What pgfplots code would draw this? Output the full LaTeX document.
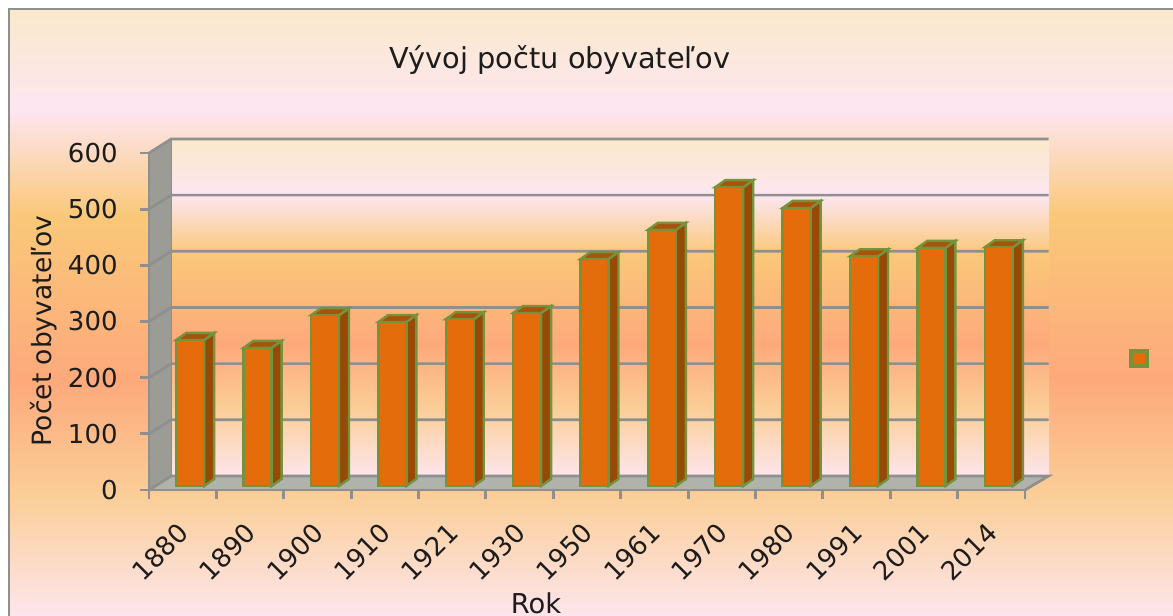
\documentclass[border=0pt]{standalone}
\usepackage{pgfplots}
\pgfplotsset{compat=1.18}
\usepackage{fontspec}
\setmainfont{DejaVu Sans}
\definecolor{gridgray}{HTML}{8E8F8E}
\definecolor{barfront}{HTML}{E46C0A}
\definecolor{barside}{HTML}{964A06}
\definecolor{bartop}{HTML}{A95208}
\definecolor{baredge}{HTML}{76923C}
\definecolor{wallgray}{HTML}{9A9C95}
\definecolor{floorgray}{HTML}{B0B2AC}
\definecolor{txt}{HTML}{1C1C1C}
\definecolor{sA}{HTML}{FDE5EC}
\definecolor{sB}{HTML}{FBCE97}
\definecolor{sC}{HTML}{FDA97B}
\definecolor{sD}{HTML}{FAC879}
\definecolor{sE}{HTML}{FDE6F1}
\definecolor{sF}{HTML}{FBE9CB}
\pgfdeclareverticalshading{sunset}{100bp}{
 color(0bp)=(sA);
 color(25bp)=(sA);
 color(35bp)=(sB);
 color(44.5bp)=(sC);
 color(58bp)=(sD);
 color(66.7bp)=(sE);
 color(75bp)=(sF);
 color(100bp)=(sF)}
% one 3D bar: side and top faces in data units (index, value)
\newcommand{\barfaces}[2]{%
 \pgfmathsetmacro\xa{#1-0.208}\pgfmathsetmacro\xb{#1+0.208}\pgfmathsetmacro\xc{#1+0.208+0.148}\pgfmathsetmacro\xd{#1-0.208+0.148}%
 \pgfmathsetmacro\vt{#2+12.5}%
 \edef\doplot{\noexpand\addplot[fill=barside,draw=baredge,line width=1.8pt] coordinates {(\xb,0) (\xc,12.5) (\xc,\vt) (\xb,#2)} -- cycle;
 \noexpand\addplot[fill=bartop,draw=baredge,line width=1.8pt] coordinates {(\xa,#2) (\xd,\vt) (\xc,\vt) (\xb,#2)} -- cycle;}%
 \doplot}
\pgfplotstableread{
idx val
0 260
1 246
2 304
3 292
4 297
5 308
6 404
7 456
8 532
9 495
10 409
11 424
12 425
}\popdata
\begin{document}
\begin{tikzpicture}[x=0.75pt,y=0.75pt]
\useasboundingbox (0,0) rectangle (1173,616);
\clip (0,0) rectangle (1173,616);
\fill[white] (0,0) rectangle (1173,616);
\shade[shading=sunset] (9,0) rectangle (1173,607);
\draw[gridgray,line width=2.2pt] (9,0) -- (9,607) -- (1173,607);
\shade[shading=sunset] (172,140) rectangle (1049,477);
% frame axis: categories at 0..12, values 0..600
\begin{axis}[
  at={(149*0.75pt,126*0.75pt)},anchor=south west,
  width=876*0.75pt,height=337*0.75pt,scale only axis,
  xmin=-0.5,xmax=12.5,ymin=0,ymax=600,clip=false,
  axis x line*=bottom,axis y line*=left,
  axis on top,tick align=outside,
  axis line style={gridgray,line width=2.2pt},
  ytick={0,100,...,600},
  xtick={-0.5,0.5,...,12.5},xticklabels={},
  extra x ticks={0,...,12},
  extra x tick labels={1880,1890,1900,1910,1921,1930,1950,1961,1970,1980,1991,2001,2014},
  extra x tick style={major tick length=0pt,
    tick label style={rotate=45,anchor=north east,xshift=-16.5pt,yshift=-10pt,text=txt,font=\fontsize{19.5}{20}\selectfont}},
  tick style={gridgray,line width=2.2pt},
  major tick length=7pt,
  y tick label style={text=txt,font=\fontsize{19.5}{20}\selectfont,xshift=-13pt},
  /pgf/number format/assume math mode=true,
]
\addplot[fill=wallgray,draw=none] coordinates {(-0.5,0) (-0.17,25) (-0.17,625) (-0.5,600)} -- cycle;
\addplot[fill=floorgray,draw=none] coordinates {(-0.5,0) (-0.17,25) (12.85,25) (12.5,0)} -- cycle;
\addplot[gridgray,line width=2pt] coordinates {(-0.5,100) (-0.17,125) (12.85,125)};
\addplot[gridgray,line width=2pt] coordinates {(-0.5,200) (-0.17,225) (12.85,225)};
\addplot[gridgray,line width=2pt] coordinates {(-0.5,300) (-0.17,325) (12.85,325)};
\addplot[gridgray,line width=2pt] coordinates {(-0.5,400) (-0.17,425) (12.85,425)};
\addplot[gridgray,line width=2pt] coordinates {(-0.5,500) (-0.17,525) (12.85,525)};
\addplot[gridgray,line width=2pt] coordinates {(-0.5,600) (-0.17,625) (12.85,625)};
\addplot[gridgray,line width=2pt] coordinates {(-0.5,0) (-0.17,25) (12.85,25) (12.5,0)};
\addplot[gridgray,line width=1pt] coordinates {(-0.17,25) (-0.17,625)};
\end{axis}
% bars: same scales, moved to mid-depth
\begin{axis}[
  at={(156.5*0.75pt,130*0.75pt)},anchor=south west,
  width=876*0.75pt,height=337*0.75pt,scale only axis,
  xmin=-0.5,xmax=12.5,ymin=0,ymax=600,clip=false,hide axis,
]
\barfaces{0}{260}\barfaces{1}{246}\barfaces{2}{304}\barfaces{3}{292}
\barfaces{4}{297}\barfaces{5}{308}\barfaces{6}{404}\barfaces{7}{456}
\barfaces{8}{532}\barfaces{9}{495}\barfaces{10}{409}\barfaces{11}{424}\barfaces{12}{425}
\addplot[ybar,bar width=21pt,bar shift=0pt,fill=barfront,draw=baredge,line width=1.8pt]
  table[x=idx,y=val] {\popdata};
\end{axis}
\node[text=txt,font=\fontsize{21.6}{24}\selectfont] at (560,556) {Vývoj počtu obyvateľov};
\node[text=txt,font=\fontsize{19.9}{22}\selectfont,rotate=90] at (44,285) {Počet obyvateľov};
\node[text=txt,font=\fontsize{20.5}{22}\selectfont] at (536,13) {Rok};
\draw[baredge,line width=2.4pt,fill=barfront] (1131,250) rectangle (1147,265);
\end{tikzpicture}
\end{document}
